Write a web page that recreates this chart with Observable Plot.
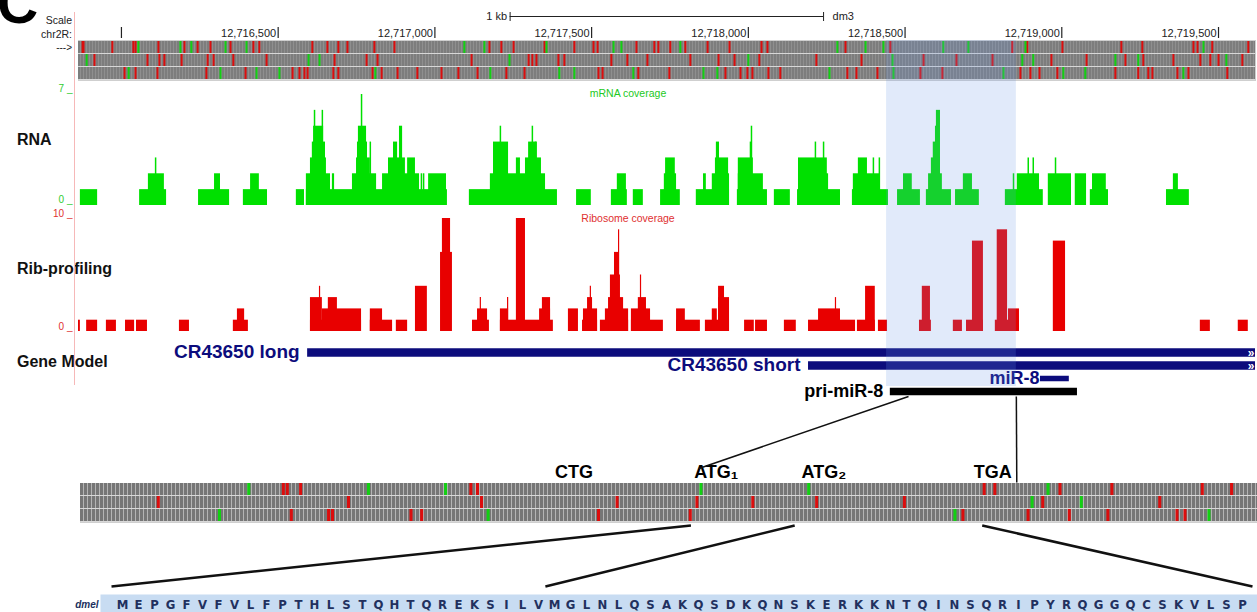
<!DOCTYPE html>
<html>
<head>
<meta charset="utf-8">
<script src="https://cdn.jsdelivr.net/npm/d3@7"></script>
<script src="https://cdn.jsdelivr.net/npm/@observablehq/plot@0.6"></script>
<style>
  html, body { margin: 0; background: #fff; }
  #fig { position: relative; width: 1257px; height: 612px; overflow: hidden; background: #fff;
         font-family: "Liberation Sans", Arial, Helvetica, sans-serif; }
</style>
</head>
<body>
<div id="fig"></div>
<script>
// ---------------- browser window: dm3 chr2R ----------------
const viewStart = 12715863;
const viewEnd = 12719618;
const rulerTicks = [12716000, 12716500, 12717000, 12717500, 12718000, 12718500, 12719000, 12719500];
const rulerLabels = [12716500, 12717000, 12717500, 12718000, 12718500, 12719000, 12719500];
const scaleBar = {start: 12717240, end: 12718240, label: "1 kb", assembly: "dm3"};
const frames = ["+1", "+2", "+3"];

// three-frame translation track: stop (red) and start (green) codons, bp from viewStart
const frame1Stops = [13,16,108,175,182,255,338,380,421,485,558,577,746,794,829,858,944,1008,1311,1349,1388,1487,1582,1643,1656,1780,1837,1850,1888,1936,2007,2077,2179,2198,2447,2590,2979,3027,3139,3327,3394,3557,3570,3617,3732];
const frame1Starts = [191,325,360,469,536,1231,1295,1493,1707,1732,1920,2421,2511,2568,2759,2839,3021,3589];
const frame2Stops = [51,220,258,274,329,412,431,494,600,817,919,954,1254,1436,1448,1461,1531,1550,1700,1751,1815,1952,2042,2093,2172,2354,2498,2696,2801,2916,3104,3216,3340,3397,3493,3579,3611,3637,3713];
const frame2Starts = [26,734,769,1375,2137,2597,3011,3046,3308,3381,3662];
const frame3Stops = [147,182,252,408,533,683,705,721,731,813,829,938,967,1018,1081,1158,1212,1273,1365,1423,1659,1672,1786,1885,2064,2112,2134,2150,2201,2239,2453,2482,2549,2686,2756,3005,3037,3066,3123,3308,3381,3413,3426,3506,3541,3665];
const frame3Starts = [160,453,568,641,947,1314,1534,1582,1770,1994,2038,2396,2600,2951,3142,3212,3525];

// mRNA read coverage: [start, end, depth] (bp from viewStart), single-base peaks separately
const rnaBlocks = [
  [6,61,1],[195,281,1],[223,274,2],[383,482,1],[434,453,2],[526,603,1],[549,577,2],[695,721,1],
  [727,1177,1],[727,804,2],[740,791,3],[746,788,4],[750,782,5],[810,817,2],
  [874,951,2],[887,931,3],[890,922,4],[893,919,5],
  [970,1088,2],[989,1043,3],[1005,1018,4],[1024,1034,5],[1050,1075,3],[1117,1174,2],
  [1247,1528,1],[1314,1490,2],[1324,1372,4],[1397,1410,3],[1426,1477,3],[1436,1464,4],
  [1589,1636,1],[1700,1751,1],[1719,1748,2],[1770,1802,1],
  [1857,1920,1],[1869,1908,2],[1873,1904,3],
  [1971,2077,1],[1994,2003,2],[2022,2077,2],[2032,2074,3],[2035,2045,4],
  [2102,2198,1],[2105,2185,2],[2105,2153,3],[2143,2150,4],
  [2220,2271,1],[2294,2431,1],[2297,2393,2],[2297,2389,3],
  [2469,2584,1],[2472,2558,2],[2488,2517,3],
  [2613,2686,1],[2632,2660,2],
  [2705,2785,1],[2712,2756,2],[2721,2750,3],[2727,2746,4],[2734,2746,5],[2737,2750,6],
  [2798,2874,1],[2823,2852,2],
  [2957,3078,1],[2995,3066,2],[3094,3168,2],[3180,3216,2],[3228,3286,1],[3235,3279,2],
  [3471,3544,1],[3493,3509,2]
];
const rnaPeaks = [[246,3],[753,6],[778,6],[903,7],[931,4],[1094,2],[1101,2],[1346,5],[1448,5],[1458,4],[2147,5],[2351,4],[2377,4],[2536,3],[2555,3],[2983,2],[3030,3],[3046,3],[3117,3]];

// ribosome footprint coverage
const ribBlocks = [
  [0,6,1],[26,61,1],[89,121,1],[150,179,1],[185,220,1],[322,354,1],[494,542,1],[507,530,2],
  [740,903,1],[740,778,3],[778,903,2],[797,826,3],[931,1002,1],[931,970,2],[1014,1050,1],
  [1075,1113,4],[1155,1193,7],[1161,1187,10],
  [1257,1311,1],[1273,1305,2],[1346,1515,1],[1346,1372,2],[1397,1426,10],[1471,1506,2],[1480,1506,3],
  [1563,1595,2],[1608,1656,1],[1611,1656,2],[1624,1640,3],
  [1665,1755,1],[1681,1755,2],[1691,1739,3],[1697,1729,5],[1710,1726,7],
  [1764,1866,1],[1764,1825,2],[1786,1812,3],
  [1908,1984,1],[1908,1936,2],[2000,2077,1],[2022,2038,2],[2042,2077,3],[2042,2061,4],
  [2125,2156,1],[2160,2198,1],[2252,2290,1],[2329,2431,1],[2361,2431,2],
  [2431,2479,1],[2485,2542,1],[2511,2542,4],[2552,2581,1],
  [2683,2721,1],[2692,2718,4],[2791,2820,1],[2833,2887,1],[2852,2887,8],
  [2925,3002,1],[2931,2964,9],[2967,3002,2],[3110,3149,8],[3579,3611,1],[3700,3732,1]
];
const ribPeaks = [[769,4],[1282,3],[1369,3],[1633,4],[1723,9],[1793,5],[2415,3]];

// gene models
const geneNames = ["CR43650 long", "CR43650 short", "miR-8", "pri-miR-8"];
const geneRows = ["long", "short", "mir", "pri"];
const geneStarts = [731, 2329, 3069, 2590];
const geneEnds = [4100, 4100, 3161, 3187];
const highlightRegion = [2578, 2992];

// zoomed view of the pri-miR-8 region (bp from zoom window start)
const zoomLength = 885;
const zoom1Stops = [151,154,164,292,297,678,686,735,774,842,864];
const zoom1Starts = [125,215,273,465,546,726];
const zoom2Stops = [57,200,300,402,462,504,552,618,722,810];
const zoom2Starts = [714,751];
const zoom3Stops = [157,185,188,247,255,388,457,662,711,742,771,823,829];
const zoom3Starts = [103,305,656,847];
const codonLabels = ["CTG", "ATG\u2081", "ATG\u2082", "TGA"];
const codonLabelPos = [371, 478, 559, 686];

// peptide encoded between ATG1 and TGA
const peptide = "MEPGFVFVLFPTHLSTQHTQREKSILVMGLNLQSAKQSDKQNSKERKKNTQINSQRIPYRQGGQCSKVLSP";
const species = "dmel";

// links: genome position -> zoom position, zoom position -> residue
const genomeToZoom = [[2648, 465, "label"], [2992, 704, "track"]];
const zoomToResidue = [[459, 1, "start"], [537, 28, "start"], [678, 71, "end"]];

// ---------------- drawing ----------------
const W = 1257;
const FONT = '"Liberation Sans", Arial, Helvetica, sans-serif';
const fig = document.getElementById("fig");
const GREEN = "#00e000", RED = "#e80000", NAVY = "#0c0c7c";

const xTop = {domain: [viewStart, viewEnd], range: [78, 1255], axis: null};
const xZoom = {domain: [0, zoomLength], range: [80, 1257], axis: null};
const residueIdx = d3.range(1, peptide.length + 1);
const xSeq = {type: "band", domain: residueIdx, range: [111, 1252], padding: 0, axis: null};

function place(top, height, opts) {
  const svg = Plot.plot({
    width: W, height,
    marginLeft: 78, marginRight: 2, marginTop: 0, marginBottom: 0,
    ...opts,
    style: {position: "absolute", left: "0px", top: top + "px", background: "none",
            fontFamily: FONT, overflow: "visible", maxWidth: "none"}
  });
  fig.append(svg);
  return svg;
}

function addText(str, x, y, {anchor = "start", size = 11, weight = "normal", color = "#111"} = {}) {
  const el = document.createElement("div");
  el.textContent = str;
  Object.assign(el.style, {
    position: "absolute", left: x + "px", top: y + "px", fontSize: size + "px", fontWeight: weight,
    color, lineHeight: "1", whiteSpace: "nowrap", fontFamily: FONT,
    transform: anchor === "end" ? "translate(-100%,-50%)" : "translate(0,-50%)"
  });
  fig.append(el);
}

function texture(id, period, base, line) {
  return () => {
    const defs = d3.create("svg:defs");
    const p = defs.append("pattern").attr("id", id).attr("patternUnits", "userSpaceOnUse")
      .attr("width", period).attr("height", 8);
    p.append("rect").attr("width", period).attr("height", 8).attr("fill", base);
    p.append("rect").attr("x", period - 1).attr("width", 1).attr("height", 8).attr("fill", line);
    return defs.node();
  };
}

// panel letter and track headers
const big = document.createElement("div");
big.textContent = "C";
Object.assign(big.style, {position: "absolute", left: "-3px", top: "-25px", fontSize: "57px",
  fontWeight: "bold", fontFamily: FONT, lineHeight: "1", color: "#000"});
fig.append(big);
addText("Scale", 72, 20, {anchor: "end", size: 10.5, color: "#222"});
addText("chr2R:", 72, 34, {anchor: "end", size: 10.5, color: "#222"});
addText("--->", 72, 48, {anchor: "end", size: 10, color: "#222"});
addText("RNA", 17, 140, {size: 16, weight: "bold"});
addText("Rib-profiling", 17, 269, {size: 16, weight: "bold"});
addText("Gene Model", 17, 362, {size: 16, weight: "bold"});

const guide = document.createElement("div");
Object.assign(guide.style, {position: "absolute", left: "74px", top: "12px", width: "1px", height: "373px", background: "#f6b8b8"});
fig.append(guide);

// ruler + scale bar
place(0, 40, {
  x: xTop,
  y: {type: "band", domain: ["bar", "ruler"], range: [8, 40], padding: 0, axis: null},
  marks: [
    Plot.ruleY([scaleBar], {x1: "start", x2: "end", y: () => "bar", stroke: "#222"}),
    Plot.tickX([scaleBar.start, scaleBar.end], {x: d => d, y: () => "bar", insetTop: 4, insetBottom: 3, stroke: "#222"}),
    Plot.text([scaleBar], {x: "start", y: () => "bar", text: "label", textAnchor: "end", dx: -3, fontSize: 11, fill: "#222"}),
    Plot.text([scaleBar], {x: "end", y: () => "bar", text: "assembly", textAnchor: "start", dx: 9, fontSize: 11, fill: "#222"}),
    Plot.tickX(rulerTicks, {x: d => d, y: () => "ruler", insetTop: 3, insetBottom: 2, stroke: "#222", strokeWidth: 1.2}),
    Plot.text(rulerLabels, {x: d => d, y: () => "ruler", text: d => d3.format(",")(d), textAnchor: "end", dx: -2, dy: 1, fontSize: 11, fill: "#222"})
  ]
});

// three-frame translation (genome window)
const frameMarks = [
  ...frame1Stops.map(o => ({frame: "+1", pos: viewStart + o, kind: "stop"})),
  ...frame1Starts.map(o => ({frame: "+1", pos: viewStart + o, kind: "start"})),
  ...frame2Stops.map(o => ({frame: "+2", pos: viewStart + o, kind: "stop"})),
  ...frame2Starts.map(o => ({frame: "+2", pos: viewStart + o, kind: "start"})),
  ...frame3Stops.map(o => ({frame: "+3", pos: viewStart + o, kind: "stop"})),
  ...frame3Starts.map(o => ({frame: "+3", pos: viewStart + o, kind: "start"}))
];
place(40, 40, {
  x: xTop,
  y: {type: "band", domain: frames, paddingInner: 0.05, paddingOuter: 0.02, axis: null},
  marks: [
    texture("codonTop", 3, "#7d7d7d", "#8f8f8f"),
    Plot.frame({fill: "#d8d8d8", stroke: "#cfcfcf"}),
    Plot.barX(frames, {x1: viewStart, x2: viewEnd, y: d => d, fill: "url(#codonTop)"}),
    Plot.tickX(frameMarks, {x: "pos", y: "frame", stroke: d => d.kind === "stop" ? "#dc0d0d" : "#12d012", strokeWidth: 2})
  ]
});

// mRNA coverage (blocks overlap, drawn from zero, not stacked)
place(82, 125, {
  marginTop: 12, marginBottom: 2,
  x: xTop,
  y: {domain: [0, 7], axis: null},
  marks: [
    Plot.rect(rnaBlocks, {x1: d => viewStart + d[0], x2: d => viewStart + d[1], y1: 0, y2: d => d[2], fill: GREEN}),
    Plot.ruleX(rnaPeaks, {x: d => viewStart + d[0], y1: 0, y2: d => d[1], stroke: GREEN, strokeWidth: 1.5}),
    Plot.text([0, 7], {y: d => d, frameAnchor: "left", text: d => `${d} _`, textAnchor: "end", dx: -6, dy: -6, fill: "#2fcc2f", fontSize: 10}),
    Plot.text(["mRNA coverage"], {frameAnchor: "top", text: d => d, dx: -39, dy: -5, fill: "#22c922", fontSize: 10.5})
  ]
});

// ribosome coverage
place(206, 127, {
  marginTop: 12, marginBottom: 2,
  x: xTop,
  y: {domain: [0, 10], axis: null},
  marks: [
    Plot.rect(ribBlocks, {x1: d => viewStart + d[0], x2: d => viewStart + d[1], y1: 0, y2: d => d[2], fill: RED}),
    Plot.ruleX(ribPeaks, {x: d => viewStart + d[0], y1: 0, y2: d => d[1], stroke: RED, strokeWidth: 1.2}),
    Plot.text([0, 10], {y: d => d, frameAnchor: "left", text: d => `${d} _`, textAnchor: "end", dx: -6, dy: -5, fill: "#e03030", fontSize: 10}),
    Plot.text(["Ribosome coverage"], {frameAnchor: "top", text: d => d, dx: -39, dy: -4, fill: "#e03030", fontSize: 10.5})
  ]
});

// gene models
const genes = geneNames.map((name, i) => ({name, row: geneRows[i], start: viewStart + geneStarts[i], end: viewStart + geneEnds[i]}));
const transcripts = genes.filter(g => g.row === "long" || g.row === "short");
const mature = genes.filter(g => g.row === "mir");
const primary = genes.filter(g => g.row === "pri");
place(338, 64, {
  x: xTop,
  y: {type: "band", domain: geneRows, range: [6.75, 60.75], padding: 0, axis: null},
  marks: [
    Plot.rect(transcripts, {x1: "start", x2: "end", y: "row", fill: NAVY, insetTop: 2.25, insetBottom: 2.25, clip: true}),
    Plot.text(transcripts, {x: () => viewEnd, y: "row", text: () => "\u00bb", textAnchor: "end", dx: -1, dy: 0, fill: "#fff", fontSize: 12, fontWeight: "bold"}),
    Plot.rect(mature, {x1: "start", x2: "end", y: "row", fill: NAVY, insetTop: 3.75, insetBottom: 3.75}),
    Plot.rect(primary, {x1: "start", x2: "end", y: "row", fill: "#000", insetTop: 2.75, insetBottom: 2.75}),
    Plot.text(transcripts, {x: "start", y: "row", text: "name", textAnchor: "end", dx: -8, dy: -1, fill: NAVY, fontSize: 19, fontWeight: "bold"}),
    Plot.text(mature, {x: "start", y: "row", text: "name", textAnchor: "end", dx: -1, dy: -1, fill: NAVY, fontSize: 18, fontWeight: "bold"}),
    Plot.text(primary, {x: "start", y: "row", text: "name", textAnchor: "end", dx: -7, dy: -1, fill: "#000", fontSize: 18, fontWeight: "bold"})
  ]
});

// highlighted pri-miR-8 interval
place(40, 346, {
  x: xTop,
  marks: [
    Plot.rect([highlightRegion], {x1: d => viewStart + d[0], x2: d => viewStart + d[1], fill: "rgb(105,150,230)", fillOpacity: 0.2})
  ]
});

// zoomed three-frame translation
const zoomMarks = [
  ...zoom1Stops.map(p => ({frame: "+1", pos: p, kind: "stop"})),
  ...zoom1Starts.map(p => ({frame: "+1", pos: p, kind: "start"})),
  ...zoom2Stops.map(p => ({frame: "+2", pos: p, kind: "stop"})),
  ...zoom2Starts.map(p => ({frame: "+2", pos: p, kind: "start"})),
  ...zoom3Stops.map(p => ({frame: "+3", pos: p, kind: "stop"})),
  ...zoom3Starts.map(p => ({frame: "+3", pos: p, kind: "start"}))
];
place(455, 70, {
  marginLeft: 80, marginRight: 0, marginTop: 28, marginBottom: 3,
  x: xZoom,
  y: {type: "band", domain: frames, paddingInner: 0.05, paddingOuter: 0.02, axis: null},
  marks: [
    texture("codonZoom", 4, "#767676", "#b4b4b4"),
    Plot.frame({fill: "#d8d8d8", stroke: "#cfcfcf"}),
    Plot.barX(frames, {x1: 0, x2: zoomLength, y: d => d, fill: "url(#codonZoom)"}),
    Plot.tickX(zoomMarks, {x: d => d.pos + 1.5, y: "frame", stroke: d => d.kind === "stop" ? "#dc0d0d" : "#12d012", strokeWidth: 3}),
    Plot.text(codonLabels, {x: (d, i) => codonLabelPos[i], y: () => "+1", text: d => d, dy: -17, fontSize: 18, fontWeight: "bold", fill: "#000"})
  ]
});

// peptide sequence
const residues = peptide.split("").map((aa, i) => ({aa, idx: i + 1}));
place(594, 18, {
  marginLeft: 100, marginRight: 0,
  x: xSeq,
  marks: [
    Plot.frame({fill: "#c8dcf2", stroke: "none"}),
    Plot.text(residues, {x: "idx", text: "aa", fill: "#22305e", fontSize: 13, fontWeight: "bold", dy: 1,
      fontFamily: '"Liberation Sans Narrow", "DejaVu Sans Condensed", "Liberation Sans", Arial, sans-serif'}),
    Plot.text([species], {frameAnchor: "left", text: d => d, textAnchor: "end", dx: -2, dy: 1, fill: "#22305e",
      fontSize: 10, fontWeight: "bold", fontStyle: "italic"})
  ]
});

// connector lines between the views
const topScale = Plot.scale({x: xTop});
const zoomScale = Plot.scale({x: xZoom});
const seqScale = Plot.scale({x: xSeq});
const links = [
  ...genomeToZoom.map(([g, z, end]) => ({
    x1: topScale.apply(viewStart + g), y1: 396,
    x2: zoomScale.apply(z), y2: end === "label" ? 468 : 482, w: 1.5
  })),
  ...zoomToResidue.map(([z, r, side]) => ({
    x1: zoomScale.apply(z), y1: 525,
    x2: seqScale.apply(r) + (side === "end" ? seqScale.bandwidth : 0), y2: 586, w: 2.5
  }))
];
place(0, 612, {
  marginLeft: 0, marginRight: 0,
  x: {type: "identity", axis: null},
  y: {type: "identity", axis: null},
  marks: [
    Plot.link(links, {x1: "x1", y1: "y1", x2: "x2", y2: "y2", stroke: "#111", strokeWidth: "w"})
  ]
});
</script>
</body>
</html>
